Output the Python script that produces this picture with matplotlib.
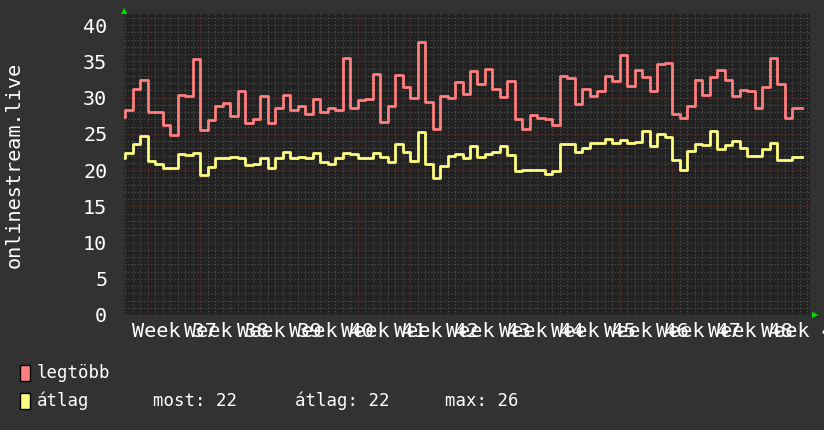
import matplotlib
matplotlib.use("Agg")
import matplotlib.pyplot as plt
import numpy as np

# daily values, day 0 = first day of week 37
DAY_START = -4
DAY_END = 87.3  # last sample runs a little into the next day

legtobb = [
    27.3, 28.3, 31.2, 32.4, 28.0, 28.0, 26.2, 24.8, 30.3, 30.2, 35.3, 25.5,
    26.9, 28.8, 29.3, 27.4, 30.9, 26.5, 27.1, 30.2, 26.5, 28.5, 30.3, 28.3,
    28.8, 27.7, 29.8, 28.0, 28.5, 28.3, 35.4, 28.5, 29.7, 29.8, 33.3, 26.6,
    28.8, 33.1, 31.5, 30.0, 37.6, 29.4, 25.7, 30.2, 29.9, 32.2, 30.5, 33.7,
    31.9, 34.0, 31.2, 30.1, 32.3, 27.0, 25.7, 27.6, 27.2, 27.1, 26.2, 33.0,
    32.7, 29.1, 31.2, 30.2, 30.9, 33.0, 32.3, 35.9, 31.6, 33.8, 32.9, 30.9,
    34.6, 34.8, 27.7, 27.2, 28.8, 32.4, 30.3, 32.9, 33.8, 32.4, 30.2, 31.0,
    30.9, 28.5, 31.5, 35.4, 31.9, 27.2, 28.5,
]
atlag = [
    21.7, 22.4, 23.6, 24.7, 21.3, 20.8, 20.3, 20.3, 22.2, 22.1, 22.3, 19.3,
    20.4, 21.7, 21.7, 21.8, 21.7, 20.7, 20.9, 21.7, 20.3, 21.6, 22.5, 21.7,
    21.8, 21.6, 22.4, 21.1, 20.9, 21.6, 22.4, 22.2, 21.7, 21.7, 22.3, 21.8,
    21.1, 23.6, 22.5, 21.3, 25.2, 20.8, 18.9, 20.5, 22.0, 22.2, 21.6, 23.3,
    21.8, 22.2, 22.5, 23.3, 22.1, 19.9, 20.0, 20.0, 20.0, 19.4, 19.9, 23.6,
    23.6, 22.5, 23.1, 23.7, 23.7, 24.3, 23.8, 24.1, 23.7, 23.9, 25.4, 23.3,
    25.0, 24.6, 21.4, 20.0, 22.6, 23.6, 23.5, 25.4, 22.9, 23.4, 24.0, 23.1,
    22.0, 22.0, 22.9, 23.7, 21.4, 21.4, 21.8,
]
weeks = list(range(37, 50))
y_ticks = [0, 5, 10, 15, 20, 25, 30, 35, 40]
legend_names = ["legtöbb", "átlag"]
stats_labels = ["most: 22", "átlag: 22", "max: 26"]

BACK = "#323232"
CANVAS = "#222222"
RED = "#ff7f7f"
YELLOW = "#ffff7f"
MONO = "DejaVu Sans Mono"

fig = plt.figure(figsize=(8.24, 4.30), dpi=100, facecolor=BACK)
W, H = 824, 430
ax = fig.add_axes([124 / W, 115 / H, 686 / W, 301.5 / H], facecolor=CANVAS)

x = np.arange(DAY_START, DAY_START + len(legtobb) + 1, dtype=float)
x[-1] = DAY_END
ax.step(x, legtobb + [legtobb[-1]], where="post", color=RED, lw=2, zorder=3)
ax.step(x, atlag + [atlag[-1]], where="post", color=YELLOW, lw=2, zorder=3)

ax.set_xlim(-3.2, 88.4)
ax.set_ylim(0, 41.6)

# grid: minor every day / unit, major every week / 5 units
for d in range(-3, 89):
    major = d % 7 == 0
    ax.axvline(d, color="#7a3636" if major else "#545454", lw=0.8,
               ls=(0, (1, 2)), zorder=1 if major else 0)
for v in range(0, 42):
    major = v % 5 == 0
    ax.axhline(v, color="#7a3636" if major else "#545454", lw=0.8,
               ls=(0, (1, 2)), zorder=1 if major else 0)

for s in ax.spines.values():
    s.set_visible(False)
ax.set_xticks([])
ax.set_yticks(y_ticks)
ax.set_yticklabels([str(t) for t in y_ticks], family=MONO, fontsize=14.5,
                   color="white")
ax.tick_params(axis="y", length=0, pad=12)

# week labels centred in each week (they overlap, as in rrdtool)
for i, wk in enumerate(weeks):
    ax.text(3.5 + 7 * i, -0.9, f"Week {wk}", ha="center", va="top",
            family=MONO, fontsize=14.5, color="white", clip_on=False)

fig.text(14 / W, 1 - 165 / H, "onlinestream.live", rotation=90, ha="center",
         va="center", family=MONO, fontsize=14.5, color="white")

# green axis arrows
fig.text(124.5 / W, 1 - 11 / H, "▲", ha="center", va="center",
         color="#00dd00", fontsize=6)
fig.text(815 / W, 1 - 315 / H, "▶", ha="center", va="center",
         color="#00dd00", fontsize=6)

# legend
for row, (name, col) in enumerate(zip(legend_names, [RED, YELLOW])):
    yc = 373 + 28 * row
    fig.patches.append(plt.Rectangle((20 / W, 1 - (yc + 8) / H), 10 / W,
                                     16 / H, transform=fig.transFigure,
                                     facecolor=col, edgecolor="black", lw=1))
    fig.text(37 / W, 1 - yc / H, name, ha="left", va="center",
             family=MONO, fontsize=12.5, color="white")

for xs, lab in zip([153, 295, 445], stats_labels):
    fig.text(xs / W, 1 - 401 / H, lab, ha="left", va="center",
             family=MONO, fontsize=12.5, color="white")

fig.savefig("out.png", dpi=100, facecolor=BACK)
